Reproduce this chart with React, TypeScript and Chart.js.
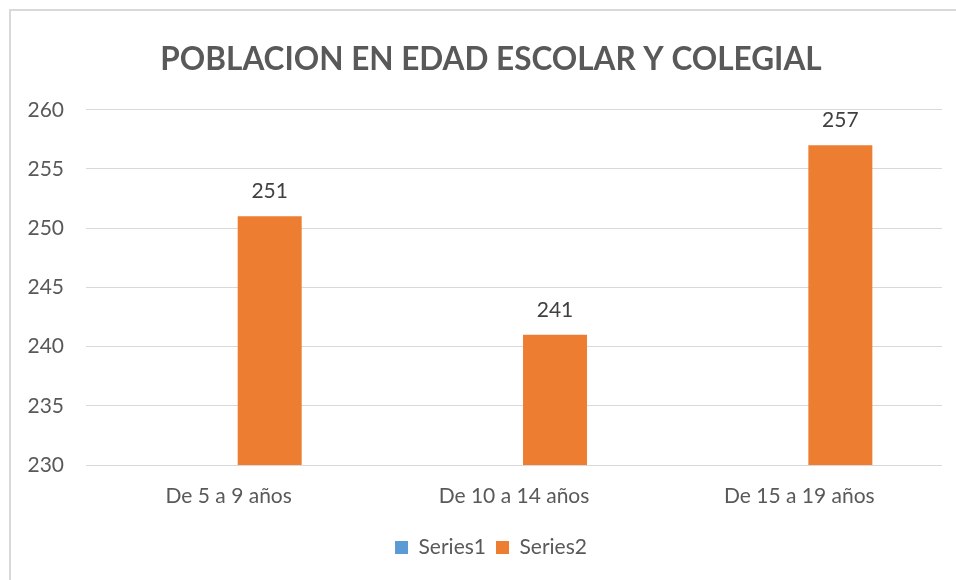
import React, { useEffect, useRef } from "react";
import { Chart, registerables } from "chart.js";

Chart.register(...registerables);

const categories = ["De 5 a 9 años", "De 10 a 14 años", "De 15 a 19 años"];
const series1: (number | null)[] = [null, null, null];
const series2 = [251, 241, 257];
const yMin = 230;
const yMax = 260;
const yStep = 5;
const titleText = "POBLACION EN EDAD ESCOLAR Y COLEGIAL";

const FONT = "Lato, 'Open Sans', sans-serif";

const dataLabels = {
  id: "dataLabels",
  afterDatasetsDraw(chart: any) {
    const ctx = chart.ctx;
    const meta = chart.getDatasetMeta(1);
    ctx.save();
    ctx.font = `21px ${FONT}`;
    ctx.fillStyle = "#404040";
    ctx.textAlign = "center";
    ctx.textBaseline = "alphabetic";
    meta.data.forEach((bar: any, i: number) => {
      const v = chart.data.datasets[1].data[i];
      if (v == null) return;
      ctx.fillText(String(v), bar.x, bar.y - 18);
    });
    ctx.restore();
  },
};

export default function App() {
  const ref = useRef<HTMLCanvasElement>(null);
  useEffect(() => {
    if (!ref.current) return;
    const chart = new Chart(ref.current, {
      type: "bar",
      data: {
        labels: categories,
        datasets: [
          { label: "Series1", data: series1, backgroundColor: "#5B9BD5", yAxisID: "y" },
          { label: "Series2", data: series2, backgroundColor: "#ED7D31", yAxisID: "y" },
        ],
      },
      options: {
        animation: false,
        responsive: false,
        maintainAspectRatio: false,
        datasets: { bar: { categoryPercentage: 0.575, barPercentage: 0.78 } },
        layout: { padding: { left: 10, right: 0, top: 18, bottom: 12 } },
        plugins: {
          tooltip: { enabled: false },
          title: {
            display: true,
            text: titleText,
            color: "#595959",
            font: { family: FONT, size: 31.5, weight: "bold" },
            padding: { top: 23, bottom: 31 },
          },
          legend: {
            position: "bottom",
            labels: {
              color: "#595959",
              font: { family: FONT, size: 21 },
              boxWidth: 13,
              boxHeight: 13,
              padding: 10,
            },
          },
        },
        scales: {
          x: {
            grid: { display: false },
            border: { display: false },
            ticks: { color: "#595959", font: { family: FONT, size: 21 }, padding: 11 },
            afterFit: (s: any) => {
              s.height = 62;
            },
          },
          y: {
            min: yMin,
            max: yMax,
            ticks: {
              stepSize: yStep,
              color: "#595959",
              font: { family: FONT, size: 21 },
              padding: 22,
            },
            grid: { color: "#d9d9d9", drawTicks: false, lineWidth: 1 },
            border: { display: false },
            afterFit: (s: any) => {
              s.width = 76;
            },
          },
          yRight: {
            position: "right",
            min: yMin,
            max: yMax,
            ticks: { display: false },
            grid: { display: false, drawTicks: false },
            border: { display: false },
            afterFit: (s: any) => {
              s.width = 30;
            },
          },
        },
      },
      plugins: [dataLabels],
    });
    return () => chart.destroy();
  }, []);
  return (
    <div style={{ position: "fixed", left: 0, top: 0, width: 956, height: 580, background: "#fff", overflow: "hidden" }}>
      <div
        style={{
          position: "absolute",
          left: 9,
          top: 9,
          width: 1100,
          height: 700,
          borderTop: "2px solid #d9d9d9",
          borderLeft: "2px solid #d9d9d9",
        }}
      />
      <canvas ref={ref} width={972} height={580} style={{ position: "absolute", left: 0, top: 0 }} />
    </div>
  );
}
